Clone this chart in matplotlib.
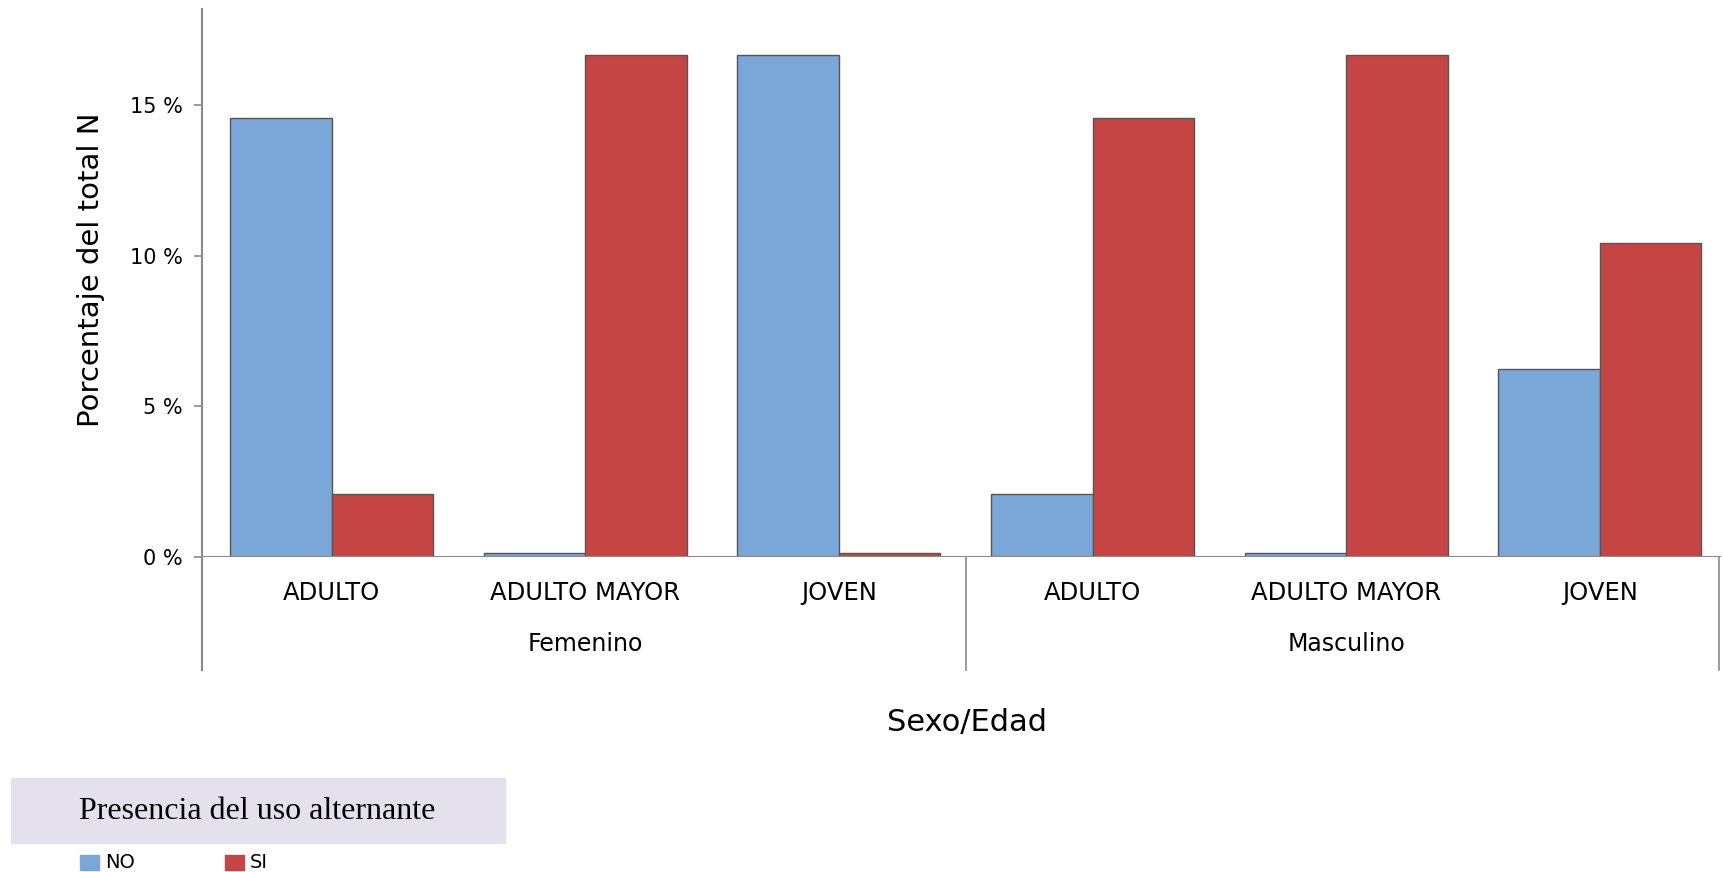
import numpy as np
import matplotlib.pyplot as plt
from matplotlib.patches import Rectangle

# Percent of total N per sex / age group
grupos = ["Femenino", "Masculino"]
edades = ["ADULTO", "ADULTO MAYOR", "JOVEN"]
pct_no = [14.58, 0.0, 16.67, 2.08, 0.0, 6.25]
pct_si = [2.08, 16.67, 0.0, 14.58, 16.67, 10.42]
series = ["NO", "SI"]

azul = "#7ba6d8"
rojo = "#c54545"
gris = "#8a8a8a"
borde = "#555555"

fig = plt.figure(figsize=(17.23, 8.72), dpi=100)
ax = fig.add_axes([0.1172, 0.3612, 0.8816, 0.6285])

x = np.arange(len(pct_no))
w = 0.4
# empty cells still get a thin sliver, like the SPSS output
h_no = np.maximum(pct_no, 0.15)
h_si = np.maximum(pct_si, 0.15)
ax.bar(x - w / 2, h_no, width=w, color=azul, edgecolor=borde, linewidth=1.0)
ax.bar(x + w / 2, h_si, width=w, color=rojo, edgecolor=borde, linewidth=1.0)

ax.set_xlim(-0.511, 5.477)
ax.set_ylim(0, 18.2)
for s in ax.spines.values():
    s.set_visible(False)

# axis lines
ax.plot([0, 0], [-0.206, 1], transform=ax.transAxes, color=gris, lw=1.5, clip_on=False)
ax.axhline(0, color=gris, lw=1.5)
ax.plot([2.5, 2.5], [0, -0.206], transform=ax.get_xaxis_transform(),
        color=gris, lw=1.2, clip_on=False)
ax.plot([0.999, 0.999], [0, -0.206], transform=ax.transAxes,
        color=gris, lw=1.2, clip_on=False)

ax.set_yticks([0, 5, 10, 15])
ax.set_yticklabels(["0 %", "5 %", "10 %", "15 %"])
ax.tick_params(axis="y", length=6, width=1.2, color=gris, labelsize=15, pad=8)
ax.set_xticks([])

# category and group labels
for i, lab in enumerate(edades * 2):
    ax.text(i, -0.065, lab, transform=ax.get_xaxis_transform(),
            ha="center", va="center", fontsize=17.5)
for g, lab in enumerate(grupos):
    ax.text(g * 3 + 1, -0.158, lab, transform=ax.get_xaxis_transform(),
            ha="center", va="center", fontsize=17)

fig.text(967 / 1723, 1 - 722 / 872, "Sexo/Edad", ha="center", va="center", fontsize=22)
fig.text(0.053, 0.691, "Porcentaje del total N", ha="center", va="center",
         rotation=90, fontsize=21)

# legend block
fig.patches.append(Rectangle((11 / 1723, 1 - 843 / 872), 494 / 1723, 65 / 872,
                             transform=fig.transFigure, color="#e4e0ec", zorder=0))
fig.text(257 / 1723, 1 - 811 / 872, "Presencia del uso alternante",
         ha="center", va="center", fontsize=23, family="Liberation Serif")
for col, lab, x0 in [(azul, series[0], 80), (rojo, series[1], 225)]:
    fig.patches.append(Rectangle((x0 / 1723, 1 - 870 / 872), 19 / 1723, 15 / 872,
                                 transform=fig.transFigure, color=col))
    fig.text((x0 + 25) / 1723, 1 - 862 / 872, lab, ha="left", va="center", fontsize=14)

fig.savefig("out.png", dpi=100)
